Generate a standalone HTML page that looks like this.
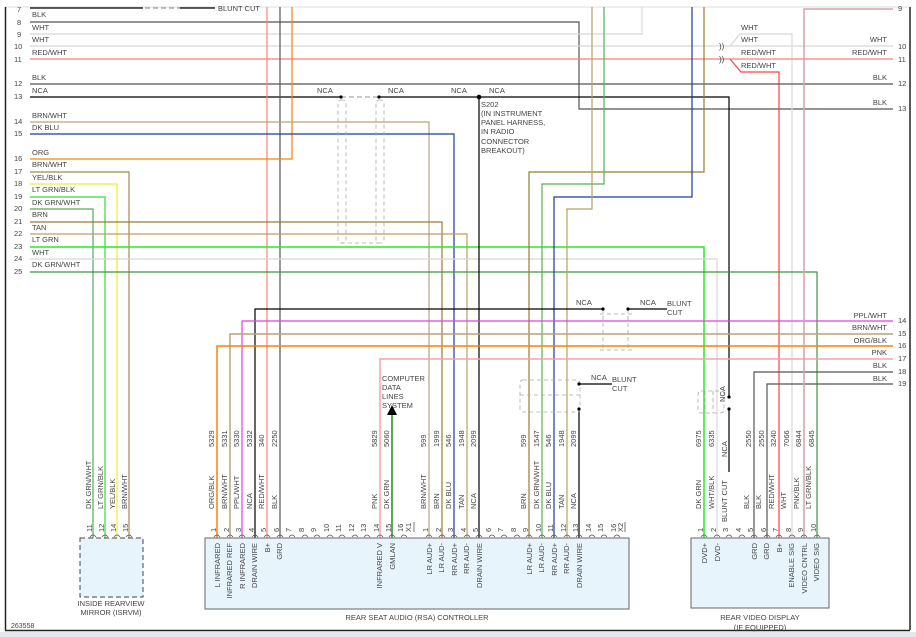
<!DOCTYPE html>
<html><head><meta charset="utf-8"><style>
html,body{margin:0;padding:0;background:#fff;}
svg{display:block;font-family:"Liberation Sans",sans-serif;}
text{fill:#444;font-size:7.5px;}
.n{font-size:7px;fill:#555;}
</style></head><body>
<svg width="916" height="637" viewBox="0 0 916 637" xmlns="http://www.w3.org/2000/svg">
<rect x="0" y="0" width="916" height="637" fill="#fff"/>
<line x1="5" y1="7" x2="910" y2="7" stroke="#ddd" stroke-width="1"/>
<line x1="5.5" y1="7" x2="5.5" y2="630" stroke="#222" stroke-width="1.5"/>
<line x1="910" y1="7" x2="910" y2="630" stroke="#222" stroke-width="1.5"/>
<line x1="5" y1="630.5" x2="910" y2="630.5" stroke="#222" stroke-width="1.5"/>
<rect x="0" y="632" width="916" height="5" fill="#e4e8ee"/>
<g fill="none" stroke-width="1.2">
<path d="M30 8H143" stroke="#000"/><path d="M145 8H180" stroke="#999" stroke-dasharray="5 3"/><path d="M180 8H215" stroke="#000"/>
<path d="M30 22H579V109H893" stroke="#555"/>
<path d="M30 34H642V7" stroke="#d8d8d8"/>
<path d="M30 46H893" stroke="#d8d8d8"/>
<path d="M730 46L740 34H792V538" stroke="#d8d8d8"/>
<path d="M30 59H893" stroke="#ff7b7b"/>
<path d="M730 59L741 72H779V538" stroke="#ff4040"/>
<path d="M30 84H893" stroke="#555"/>
<path d="M30 97H341" stroke="#000"/><path d="M379 97H479H729V397" stroke="#000"/>
<path d="M729 409V472" stroke="#000"/>
<path d="M341 97H379" stroke="#aaa" stroke-dasharray="5 3"/>
<path d="M267 7V538" stroke="#ff8080"/>
<path d="M280 7V538" stroke="#555"/>
<path d="M30 159H292V7" stroke="#ff8000"/>
<path d="M30 122H429V538" stroke="#b8a47a"/>
<path d="M30 134H454V538" stroke="#1a3a9a"/>
<path d="M30 172H129V538" stroke="#a08a55"/>
<path d="M30 184H117V538" stroke="#eeee30"/>
<path d="M30 197H105V538" stroke="#33dd33"/>
<path d="M30 209H93V538" stroke="#55aa55"/>
<path d="M30 222H442V538" stroke="#9a7a30"/>
<path d="M30 234H467V538" stroke="#b8a060"/>
<path d="M30 247H704V538" stroke="#22ee22" stroke-width="1.5"/>
<path d="M30 259H717V538" stroke="#d8d8d8"/>
<path d="M30 272H817V538" stroke="#3a9a3a"/>
<path d="M479 97V538" stroke="#000"/>
<path d="M704 7V172H529V538" stroke="#9a7a30"/>
<path d="M604 7V184H542V538" stroke="#55b055"/>
<path d="M692 7V197H554V538" stroke="#1a3a9a"/>
<path d="M592 7V209H567V538" stroke="#b8a060"/>
<path d="M579 409V538" stroke="#000"/>
<path d="M579 384H612" stroke="#000"/>
<path d="M255 538V309H603" stroke="#000"/><path d="M628 309H667" stroke="#000"/>
<path d="M242 538V321H893" stroke="#e040e0"/>
<path d="M230 538V334H893" stroke="#b8a47a" stroke-width="1.5"/>
<path d="M217 538V346H893" stroke="#ff8000" stroke-width="1.5"/>
<path d="M380 538V359H893" stroke="#f5a0b0" stroke-width="1.5"/>
<path d="M754 538V372H893" stroke="#555"/>
<path d="M767 538V384H893" stroke="#555"/>
<path d="M804 538V9H893" stroke="#d9a0a8" stroke-width="1.5"/>
<path d="M392 538V415" stroke="#1e8c1e" stroke-width="1.5"/>
</g>
<polygon points="392,405 387,415 397,415" fill="#000"/>
<g fill="none" stroke="#aaa" stroke-width="0.8" stroke-dasharray="4 3">
<rect x="338" y="100" width="8" height="143" rx="3"/><rect x="376" y="100" width="8" height="143" rx="3"/>
<path d="M341 243H379"/>
<path d="M603 309V350M628 309V350M600 314H632M600 350H632"/>
<rect x="520" y="380" width="60" height="32" rx="3"/><path d="M520 395H580"/>
<rect x="698" y="391" width="26" height="22" rx="3"/><path d="M705 391V413M713 391V413"/>
</g>
<g fill="#000"><circle cx="341" cy="97" r="1.6"/><circle cx="379" cy="97" r="1.6"/><circle cx="479" cy="97" r="2.3"/>
<circle cx="603" cy="309" r="1.6"/><circle cx="628" cy="309" r="1.6"/><circle cx="579" cy="384" r="1.6"/><circle cx="579" cy="409" r="1.6"/>
<circle cx="729" cy="397" r="1.6"/><circle cx="729" cy="409" r="1.6"/></g>
<text x="719" y="49" style="font-size:8px">))</text><text x="719" y="62" style="font-size:8px">))</text>
<g class="n"><text x="17" y="12">7</text><text x="17" y="25">8</text><text x="17" y="37">9</text><text x="14" y="49">10</text><text x="14" y="62">11</text><text x="14" y="86">12</text><text x="14" y="99">13</text><text x="14" y="124">14</text><text x="14" y="136">15</text><text x="14" y="161">16</text><text x="14" y="174">17</text><text x="14" y="186">18</text><text x="14" y="199">19</text><text x="14" y="211">20</text><text x="14" y="224">21</text><text x="14" y="236">22</text><text x="14" y="249">23</text><text x="14" y="261">24</text><text x="14" y="274">25</text></g>
<g><text x="32" y="17">BLK</text><text x="32" y="30">WHT</text><text x="32" y="42">WHT</text><text x="32" y="55">RED/WHT</text><text x="32" y="80">BLK</text><text x="32" y="93">NCA</text><text x="32" y="118">BRN/WHT</text><text x="32" y="130">DK BLU</text><text x="32" y="155">ORG</text><text x="32" y="167">BRN/WHT</text><text x="32" y="180">YEL/BLK</text><text x="32" y="192">LT GRN/BLK</text><text x="32" y="205">DK GRN/WHT</text><text x="32" y="217">BRN</text><text x="32" y="230">TAN</text><text x="32" y="242">LT GRN</text><text x="32" y="255">WHT</text><text x="32" y="267">DK GRN/WHT</text>
<text x="218" y="11">BLUNT CUT</text>
<text x="317" y="93">NCA</text><text x="388" y="93">NCA</text><text x="451" y="93">NCA</text><text x="489" y="93">NCA</text>
<text x="481" y="107">S202</text><text x="481" y="116">(IN INSTRUMENT</text><text x="481" y="125">PANEL HARNESS,</text><text x="481" y="134">IN RADIO</text><text x="481" y="144">CONNECTOR</text><text x="481" y="153">BREAKOUT)</text>
<text x="741" y="30">WHT</text><text x="741" y="42">WHT</text><text x="741" y="55">RED/WHT</text><text x="741" y="68">RED/WHT</text>
<text x="576" y="305">NCA</text><text x="640" y="305">NCA</text><text x="667" y="306">BLUNT</text><text x="667" y="315">CUT</text>
<text x="591" y="380">NCA</text><text x="612" y="382">BLUNT</text><text x="612" y="391">CUT</text>
<text x="382" y="381">COMPUTER</text><text x="382" y="390">DATA</text><text x="382" y="399">LINES</text><text x="382" y="408">SYSTEM</text>
</g>
<g text-anchor="end"><text x="887" y="42">WHT</text><text x="887" y="55">RED/WHT</text><text x="887" y="80">BLK</text><text x="887" y="105">BLK</text>
<text x="887" y="318">PPL/WHT</text><text x="887" y="330">BRN/WHT</text><text x="887" y="343">ORG/BLK</text><text x="887" y="355">PNK</text><text x="887" y="368">BLK</text><text x="887" y="381">BLK</text></g>
<g class="n"><text x="898" y="11">9</text><text x="898" y="49">10</text><text x="898" y="62">11</text><text x="898" y="86">12</text><text x="898" y="111">13</text>
<text x="898" y="323">14</text><text x="898" y="336">15</text><text x="898" y="348">16</text><text x="898" y="361">17</text><text x="898" y="374">18</text><text x="898" y="386">19</text></g>
<rect x="80" y="538" width="63" height="59" fill="#e8f4fc" stroke="#444" stroke-dasharray="5 3"/>
<rect x="205" y="538" width="424" height="71" fill="#e8f4fc" stroke="#666"/>
<rect x="691" y="538" width="138" height="70" fill="#e8f4fc" stroke="#666"/>
<g text-anchor="middle"><text x="111" y="606">INSIDE REARVIEW</text><text x="111" y="615">MIRROR (ISRVM)</text>
<text x="417" y="620">REAR SEAT AUDIO (RSA) CONTROLLER</text><text x="760" y="620">REAR VIDEO DISPLAY</text><text x="760" y="630">(IF EQUIPPED)</text></g>
<text x="11" y="628" style="font-size:7px">263558</text>
<g fill="none" stroke="#555" stroke-width="0.8">
<path d="M90 537q3-4 6 0M102 537q3-4 6 0M114 537q3-4 6 0M126 537q3-4 6 0"/>
<path d="M214 537q3-4 6 0M227 537q3-4 6 0M239 537q3-4 6 0M252 537q3-4 6 0M264 537q3-4 6 0M277 537q3-4 6 0M289 537q3-4 6 0M302 537q3-4 6 0M314 537q3-4 6 0M327 537q3-4 6 0M339 537q3-4 6 0M352 537q3-4 6 0M364 537q3-4 6 0M377 537q3-4 6 0M389 537q3-4 6 0M401 537q3-4 6 0"/>
<path d="M426 537q3-4 6 0M439 537q3-4 6 0M451 537q3-4 6 0M464 537q3-4 6 0M476 537q3-4 6 0M489 537q3-4 6 0M501 537q3-4 6 0M514 537q3-4 6 0M526 537q3-4 6 0M539 537q3-4 6 0M551 537q3-4 6 0M564 537q3-4 6 0M576 537q3-4 6 0M589 537q3-4 6 0M601 537q3-4 6 0M614 537q3-4 6 0"/>
<path d="M701 537q3-4 6 0M714 537q3-4 6 0M726 537q3-4 6 0M739 537q3-4 6 0M751 537q3-4 6 0M764 537q3-4 6 0M776 537q3-4 6 0M789 537q3-4 6 0M801 537q3-4 6 0M814 537q3-4 6 0"/>
<path d="M414 522V532M625 522V532"/>
</g>
<g class="n" style="font-size:6.5px">
<text transform="translate(92,532) rotate(-90)">11</text><text transform="translate(104,532) rotate(-90)">12</text><text transform="translate(116,532) rotate(-90)">14</text><text transform="translate(128,532) rotate(-90)">15</text>
<text transform="translate(216,532) rotate(-90)">1</text><text transform="translate(229,532) rotate(-90)">2</text><text transform="translate(241,532) rotate(-90)">3</text><text transform="translate(254,532) rotate(-90)">4</text><text transform="translate(266,532) rotate(-90)">5</text><text transform="translate(279,532) rotate(-90)">6</text><text transform="translate(291,532) rotate(-90)">7</text><text transform="translate(304,532) rotate(-90)">8</text><text transform="translate(316,532) rotate(-90)">9</text><text transform="translate(329,532) rotate(-90)">10</text><text transform="translate(341,532) rotate(-90)">11</text><text transform="translate(354,532) rotate(-90)">12</text><text transform="translate(366,532) rotate(-90)">13</text><text transform="translate(379,532) rotate(-90)">14</text><text transform="translate(391,532) rotate(-90)">15</text><text transform="translate(403,532) rotate(-90)">16</text><text transform="translate(411,532) rotate(-90)">X1</text>
<text transform="translate(428,532) rotate(-90)">1</text><text transform="translate(441,532) rotate(-90)">2</text><text transform="translate(453,532) rotate(-90)">3</text><text transform="translate(466,532) rotate(-90)">4</text><text transform="translate(478,532) rotate(-90)">5</text><text transform="translate(491,532) rotate(-90)">6</text><text transform="translate(503,532) rotate(-90)">7</text><text transform="translate(516,532) rotate(-90)">8</text><text transform="translate(528,532) rotate(-90)">9</text><text transform="translate(541,532) rotate(-90)">10</text><text transform="translate(553,532) rotate(-90)">11</text><text transform="translate(566,532) rotate(-90)">12</text><text transform="translate(578,532) rotate(-90)">13</text><text transform="translate(591,532) rotate(-90)">14</text><text transform="translate(603,532) rotate(-90)">15</text><text transform="translate(616,532) rotate(-90)">16</text><text transform="translate(623,532) rotate(-90)">X2</text>
<text transform="translate(703,532) rotate(-90)">1</text><text transform="translate(716,532) rotate(-90)">2</text><text transform="translate(728,532) rotate(-90)">3</text><text transform="translate(741,532) rotate(-90)">4</text><text transform="translate(753,532) rotate(-90)">5</text><text transform="translate(766,532) rotate(-90)">6</text><text transform="translate(778,532) rotate(-90)">7</text><text transform="translate(791,532) rotate(-90)">8</text><text transform="translate(803,532) rotate(-90)">9</text><text transform="translate(816,532) rotate(-90)">10</text>
<text transform="translate(214,447) rotate(-90)">5329</text><text transform="translate(227,447) rotate(-90)">5331</text><text transform="translate(239,447) rotate(-90)">5330</text><text transform="translate(252,447) rotate(-90)">5332</text><text transform="translate(264,447) rotate(-90)">340</text><text transform="translate(277,447) rotate(-90)">2250</text>
<text transform="translate(377,447) rotate(-90)">5829</text><text transform="translate(389,447) rotate(-90)">5060</text>
<text transform="translate(426,447) rotate(-90)">599</text><text transform="translate(439,447) rotate(-90)">1999</text><text transform="translate(451,447) rotate(-90)">546</text><text transform="translate(464,447) rotate(-90)">1948</text><text transform="translate(476,447) rotate(-90)">2099</text>
<text transform="translate(526,447) rotate(-90)">599</text><text transform="translate(539,447) rotate(-90)">1547</text><text transform="translate(551,447) rotate(-90)">546</text><text transform="translate(564,447) rotate(-90)">1948</text><text transform="translate(576,447) rotate(-90)">2099</text>
<text transform="translate(701,447) rotate(-90)">6975</text><text transform="translate(714,447) rotate(-90)">6335</text><text transform="translate(751,447) rotate(-90)">2550</text><text transform="translate(764,447) rotate(-90)">2550</text><text transform="translate(776,447) rotate(-90)">3240</text><text transform="translate(789,447) rotate(-90)">7066</text><text transform="translate(801,447) rotate(-90)">6844</text><text transform="translate(814,447) rotate(-90)">6845</text>
</g>
<g style="font-size:7.5px">
<text transform="translate(91,509) rotate(-90)">DK GRN/WHT</text><text transform="translate(103,509) rotate(-90)">LT GRN/BLK</text><text transform="translate(115,509) rotate(-90)">YEL/BLK</text><text transform="translate(127,509) rotate(-90)">BRN/WHT</text>
<text transform="translate(214,509) rotate(-90)">ORG/BLK</text><text transform="translate(227,509) rotate(-90)">BRN/WHT</text><text transform="translate(239,509) rotate(-90)">PPL/WHT</text><text transform="translate(252,509) rotate(-90)">NCA</text><text transform="translate(264,509) rotate(-90)">RED/WHT</text><text transform="translate(277,509) rotate(-90)">BLK</text>
<text transform="translate(377,509) rotate(-90)">PNK</text><text transform="translate(389,509) rotate(-90)">DK GRN</text>
<text transform="translate(426,509) rotate(-90)">BRN/WHT</text><text transform="translate(439,509) rotate(-90)">BRN</text><text transform="translate(451,509) rotate(-90)">DK BLU</text><text transform="translate(464,509) rotate(-90)">TAN</text><text transform="translate(476,509) rotate(-90)">NCA</text>
<text transform="translate(526,509) rotate(-90)">BRN</text><text transform="translate(539,509) rotate(-90)">DK GRN/WHT</text><text transform="translate(551,509) rotate(-90)">DK BLU</text><text transform="translate(564,509) rotate(-90)">TAN</text><text transform="translate(576,509) rotate(-90)">NCA</text>
<text transform="translate(701,509) rotate(-90)">DK GRN</text><text transform="translate(714,509) rotate(-90)">WHT/BLK</text><text transform="translate(727,522) rotate(-90)">BLUNT CUT</text><text transform="translate(727,457) rotate(-90)">NCA</text><text transform="translate(725,402) rotate(-90)">NCA</text>
<text transform="translate(749,509) rotate(-90)">BLK</text><text transform="translate(761,509) rotate(-90)">BLK</text><text transform="translate(774,509) rotate(-90)">RED/WHT</text><text transform="translate(786,509) rotate(-90)">WHT</text><text transform="translate(799,509) rotate(-90)">PNK/BLK</text><text transform="translate(811,509) rotate(-90)">LT GRN/BLK</text>
</g>
<g style="font-size:7.5px" text-anchor="end">
<text transform="translate(220,543) rotate(-90)">L INFRARED</text><text transform="translate(232,543) rotate(-90)">INFRARED REF</text><text transform="translate(245,543) rotate(-90)">R INFRARED</text><text transform="translate(257,543) rotate(-90)">DRAIN WIRE</text><text transform="translate(270,543) rotate(-90)">B+</text><text transform="translate(282,543) rotate(-90)">GRD</text>
<text transform="translate(382,543) rotate(-90)">INFRARED V</text><text transform="translate(395,543) rotate(-90)">GMLAN</text>
<text transform="translate(432,543) rotate(-90)">LR AUD+</text><text transform="translate(444,543) rotate(-90)">LR AUD-</text><text transform="translate(457,543) rotate(-90)">RR AUD+</text><text transform="translate(469,543) rotate(-90)">RR AUD-</text><text transform="translate(482,543) rotate(-90)">DRAIN WIRE</text>
<text transform="translate(532,543) rotate(-90)">LR AUD+</text><text transform="translate(544,543) rotate(-90)">LR AUD-</text><text transform="translate(557,543) rotate(-90)">RR AUD+</text><text transform="translate(569,543) rotate(-90)">RR AUD-</text><text transform="translate(582,543) rotate(-90)">DRAIN WIRE</text>
<text transform="translate(707,543) rotate(-90)">DVD+</text><text transform="translate(720,543) rotate(-90)">DVD-</text><text transform="translate(757,543) rotate(-90)">GRD</text><text transform="translate(769,543) rotate(-90)">GRD</text><text transform="translate(782,543) rotate(-90)">B+</text><text transform="translate(794,543) rotate(-90)">ENABLE SIG</text><text transform="translate(807,543) rotate(-90)">VIDEO CNTRL</text><text transform="translate(819,543) rotate(-90)">VIDEO SIG</text>
</g>
</svg>
</body></html>
